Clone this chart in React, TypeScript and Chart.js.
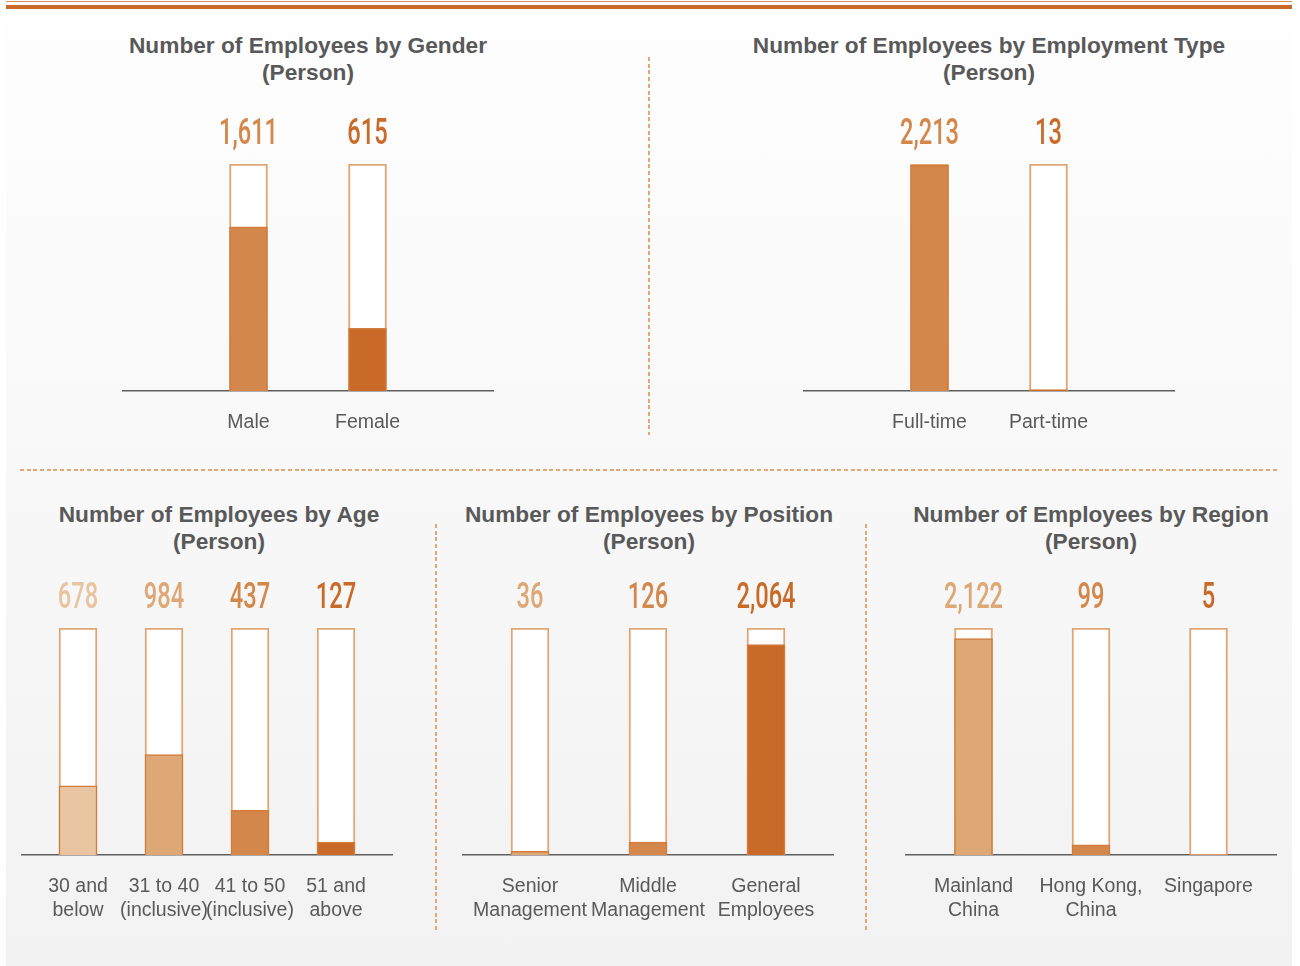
import React, { useEffect, useRef } from 'react';
import { Chart, registerables } from 'chart.js';

Chart.register(...registerables);

// ---------- data ----------
const genderCategories = [['Male'], ['Female']];
const genderValues = [1611, 615];

const employmentCategories = [['Full-time'], ['Part-time']];
const employmentValues = [2213, 13];

const ageCategories = [['30 and', 'below'], ['31 to 40', '(inclusive)'], ['41 to 50', '(inclusive)'], ['51 and', 'above']];
const ageValues = [678, 984, 437, 127];

const positionCategories = [['Senior', 'Management'], ['Middle', 'Management'], ['General', 'Employees']];
const positionValues = [36, 126, 2064];

const regionCategories = [['Mainland', 'China'], ['Hong Kong,', 'China'], ['Singapore']];
const regionValues = [2122, 99, 5];

// ---------- styles ----------
const LIGHTEST = '#e8c5a0';
const LIGHT = '#dea776';
const MID = '#d4874a';
const DARK = '#c96a28';
const TEXT = '#595959';
const FONT = '"Liberation Sans", Arial, sans-serif';
const AXIS_W = 370;
const PAD = 15;

type PanelProps = {
  categories: string[][];
  values: number[];
  colors: string[];
  axisLeft: number;
  barTop: number;
  spacing: number;
  xHeight: number;
};

function BarPanel({ categories, values, colors, axisLeft, barTop, spacing, xHeight }: PanelProps) {
  const ref = useRef<HTMLCanvasElement | null>(null);
  const topPad = 64;
  const width = AXIS_W + PAD * 2;
  const height = topPad + 227 + xHeight;

  useEffect(() => {
    const total = values.reduce((a, b) => a + b, 0);
    const n = values.length;
    const half = AXIS_W / 2 / spacing;
    const c = (n - 1) / 2;

    const valueLabels = {
      id: 'valueLabels',
      afterDatasetsDraw(chart: any) {
        const ctx = chart.ctx;
        const meta = chart.getDatasetMeta(1);
        const ds = chart.data.datasets[0].data as any[];
        meta.data.forEach((el: any, i: number) => {
          const txt = Number(ds[i].y).toLocaleString('en-US');
          ctx.save();
          ctx.translate(el.x, el.y - 20);
          ctx.scale(0.64, 1);
          ctx.font = '500 37px Roboto, "Liberation Sans", sans-serif';
          ctx.fillStyle = colors[i];
          ctx.textAlign = 'center';
          ctx.textBaseline = 'alphabetic';
          ctx.fillText(txt, 0, 0);
          ctx.restore();
        });
      },
    };

    const chart = new Chart(ref.current as HTMLCanvasElement, {
      type: 'bar',
      data: {
        datasets: [
          {
            data: values.map((v, i) => ({ x: i, y: v })),
            backgroundColor: colors,
            borderColor: '#d27b3c',
            borderWidth: 1.5,
            barThickness: 38,
            grouped: false,
            order: 0,
          } as any,
          {
            data: values.map((_, i) => ({ x: i, y: total })),
            backgroundColor: '#ffffff',
            borderColor: '#e2a676',
            borderWidth: 2,
            barThickness: 38,
            grouped: false,
            order: 1,
          } as any,
        ],
      },
      options: {
        animation: false,
        responsive: false,
        events: [],
        layout: { padding: { left: PAD, right: PAD, top: topPad, bottom: 0 } },
        plugins: {
          legend: { display: false },
          tooltip: { enabled: false },
          title: { display: false },
        },
        scales: {
          x: {
            type: 'linear',
            offset: false,
            min: c - half,
            max: c + half,
            grid: { display: false, drawTicks: false, offset: false },
            border: { display: true, color: '#5f5f5f', width: 1.5 },
            afterBuildTicks: (s: any) => {
              s.ticks = values.map((_, i) => ({ value: i }));
            },
            afterFit: (s: any) => {
              s.height = xHeight;
            },
            ticks: {
              autoSkip: false,
              maxRotation: 0,
              minRotation: 0,
              padding: 20,
              color: TEXT,
              font: { family: FONT, size: 19.5, lineHeight: 1.23 },
              callback: (v: any) => categories[v] ?? '',
            },
          },
          y: { display: false, min: 0, max: total },
        },
      } as any,
      plugins: [valueLabels],
    });
    return () => chart.destroy();
  }, []);

  return (
    <canvas
      ref={ref}
      width={width}
      height={height}
      style={{ position: 'absolute', left: axisLeft - PAD, top: barTop - topPad, width, height, display: 'block' }}
    />
  );
}

function Title({ text, center, top }: { text: string; center: number; top: number }) {
  return (
    <div
      style={{
        position: 'absolute',
        left: center - 300,
        top,
        width: 600,
        textAlign: 'center',
        fontFamily: FONT,
        fontWeight: 700,
        fontSize: 22.7,
        lineHeight: '27px',
        color: TEXT,
      }}
    >
      {text}
      <br />
      (Person)
    </div>
  );
}

const dashV = (left: number, top: number, height: number) => (
  <div
    style={{
      position: 'absolute',
      left,
      top,
      width: 2,
      height,
      background: 'repeating-linear-gradient(to bottom, #e3a676 0px, #e3a676 4px, transparent 4px, transparent 6.7px)',
    }}
  />
);

export default function App() {
  return (
    <div style={{ position: 'absolute', left: 0, top: 0, width: 1300, height: 966, background: '#ffffff', overflow: 'hidden' }}>
      <div style={{ position: 'absolute', left: 6, top: 10, width: 1286, height: 956, background: 'linear-gradient(to bottom, #fefefe 0%, #f9f9f9 40%, #f2f2f2 100%)' }} />
      <div style={{ position: 'absolute', left: 6, top: 1, width: 1286, height: 1, background: '#d88f58' }} />
      <div style={{ position: 'absolute', left: 6, top: 5, width: 1286, height: 4, background: '#c96a28' }} />

      {dashV(648, 57, 378)}
      <div
        style={{
          position: 'absolute',
          left: 20,
          top: 469,
          width: 1257,
          height: 2,
          background: 'repeating-linear-gradient(to right, #e3a676 0px, #e3a676 4px, transparent 4px, transparent 6.7px)',
        }}
      />
      {dashV(435, 524, 406)}
      {dashV(865, 524, 406)}

      <Title text="Number of Employees by Gender" center={308} top={32} />
      <Title text="Number of Employees by Employment Type" center={989} top={32} />
      <Title text="Number of Employees by Age" center={219} top={501} />
      <Title text="Number of Employees by Position" center={649} top={501} />
      <Title text="Number of Employees by Region" center={1091} top={501} />

      <BarPanel categories={genderCategories} values={genderValues} colors={[MID, DARK]} axisLeft={123} barTop={164} spacing={119} xHeight={69} />
      <BarPanel categories={employmentCategories} values={employmentValues} colors={[MID, DARK]} axisLeft={804} barTop={164} spacing={119} xHeight={69} />
      <BarPanel categories={ageCategories} values={ageValues} colors={[LIGHTEST, LIGHT, MID, DARK]} axisLeft={22} barTop={628} spacing={86} xHeight={90} />
      <BarPanel categories={positionCategories} values={positionValues} colors={[LIGHT, MID, DARK]} axisLeft={463} barTop={628} spacing={118} xHeight={90} />
      <BarPanel categories={regionCategories} values={regionValues} colors={[LIGHT, MID, DARK]} axisLeft={906} barTop={628} spacing={117.5} xHeight={90} />
    </div>
  );
}
